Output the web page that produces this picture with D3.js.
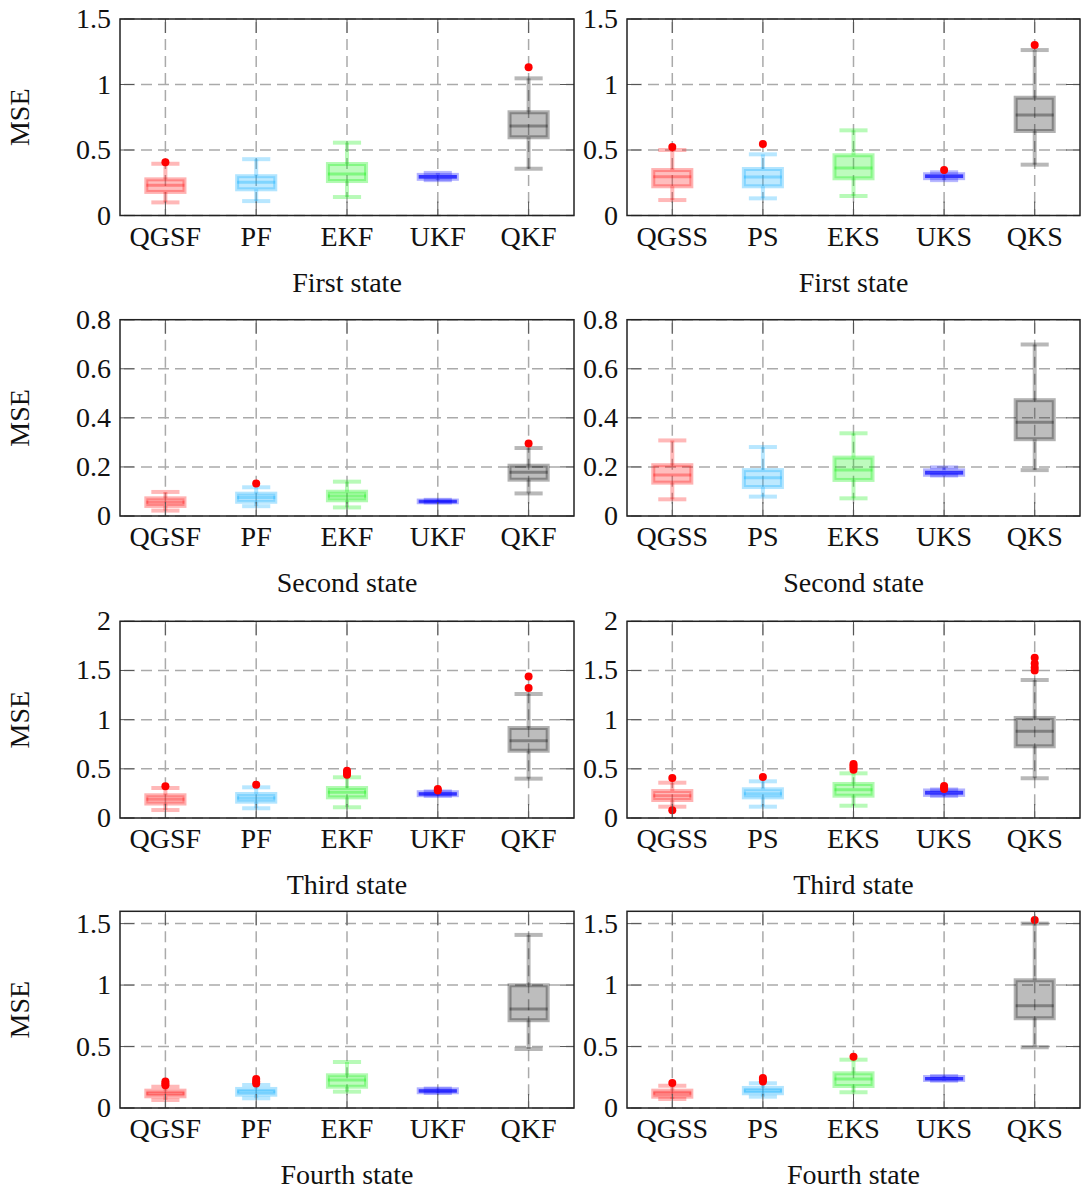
<!DOCTYPE html>
<html>
<head>
<meta charset="utf-8">
<script src="https://cdn.jsdelivr.net/npm/d3@7.9.0/dist/d3.min.js"></script>
<style>
  body { margin: 0; background: #fff; }
  svg text { font-family: "Liberation Serif", "DejaVu Serif", serif; fill: #111; }
</style>
</head>
<body>
<svg id="chart" width="1081" height="1195"></svg>
<script>
// ---- data: [lower whisker, Q1, median, Q3, upper whisker] per method ----
const filterNames = ['QGSF', 'PF', 'EKF', 'UKF', 'QKF'];
const smootherNames = ['QGSS', 'PS', 'EKS', 'UKS', 'QKS'];
const boxColors = ['#ff0000', '#00aaff', '#00ee00', '#0000ff', '#000000'];
const stateTitles = ['First state', 'Second state', 'Third state', 'Fourth state'];

const firstFilter = [[0.10, 0.18, 0.23, 0.276, 0.395], [0.11, 0.20, 0.253, 0.30, 0.43], [0.141, 0.263, 0.317, 0.393, 0.556], [0.27, 0.28, 0.295, 0.31, 0.325], [0.357, 0.597, 0.683, 0.788, 1.047]];
const firstFilterOut = [[0.406], [], [], [], [1.131]];
const firstSmoother = [[0.118, 0.223, 0.296, 0.347, 0.50], [0.131, 0.223, 0.294, 0.355, 0.467], [0.149, 0.284, 0.363, 0.46, 0.65], [0.27, 0.285, 0.30, 0.315, 0.33], [0.388, 0.645, 0.767, 0.899, 1.263]];
const firstSmootherOut = [[0.523], [0.546], [], [0.347], [1.301]];

const secondFilter = [[0.022, 0.041, 0.056, 0.072, 0.098], [0.04, 0.058, 0.075, 0.091, 0.117], [0.035, 0.064, 0.081, 0.099, 0.14], [0.055, 0.056, 0.059, 0.063, 0.066], [0.092, 0.148, 0.178, 0.205, 0.277]];
const secondFilterOut = [[], [0.132], [], [], [0.295]];
const secondSmoother = [[0.068, 0.136, 0.167, 0.207, 0.308], [0.079, 0.118, 0.156, 0.187, 0.281], [0.072, 0.147, 0.187, 0.238, 0.337], [0.165, 0.168, 0.176, 0.186, 0.198], [0.187, 0.313, 0.382, 0.472, 0.699]];
const secondSmootherOut = [[], [], [], [], []];

const thirdFilter = [[0.081, 0.147, 0.19, 0.231, 0.305], [0.099, 0.166, 0.203, 0.244, 0.312], [0.109, 0.21, 0.261, 0.305, 0.414], [0.225, 0.232, 0.245, 0.262, 0.27], [0.40, 0.684, 0.786, 0.915, 1.261]];
const thirdFilterOut = [[0.322], [0.339], [0.44, 0.46, 0.48], [0.28, 0.295], [1.322, 1.44]];
const thirdSmoother = [[0.115, 0.183, 0.227, 0.274, 0.359], [0.115, 0.21, 0.247, 0.292, 0.373], [0.125, 0.227, 0.288, 0.346, 0.454], [0.225, 0.235, 0.256, 0.28, 0.29], [0.404, 0.729, 0.882, 1.017, 1.403]];
const thirdSmootherOut = [[0.407, 0.078], [0.417], [0.49, 0.51, 0.53, 0.55], [0.295, 0.31, 0.325], [1.5, 1.53, 1.57, 1.63]];

const fourthFilter = [[0.065, 0.095, 0.117, 0.141, 0.173], [0.079, 0.108, 0.133, 0.155, 0.187], [0.133, 0.173, 0.228, 0.266, 0.374], [0.122, 0.128, 0.138, 0.152, 0.158], [0.48, 0.714, 0.806, 0.998, 1.408]];
const fourthFilterOut = [[0.185, 0.2, 0.215], [0.2, 0.215, 0.235], [], [], []];
const fourthSmoother = [[0.073, 0.092, 0.12, 0.141, 0.181], [0.092, 0.12, 0.141, 0.163, 0.201], [0.128, 0.179, 0.236, 0.282, 0.393], [0.222, 0.228, 0.238, 0.252, 0.26], [0.494, 0.73, 0.832, 1.039, 1.5]];
const fourthSmootherOut = [[0.203], [0.215, 0.23, 0.245], [0.417], [], [1.53]];

const yMax = [1.5, 0.8, 2, 1.6];
const yTicks = [[0, 0.5, 1, 1.5], [0, 0.2, 0.4, 0.6, 0.8], [0, 0.5, 1, 1.5, 2], [0, 0.5, 1, 1.5]];

// ---- layout ----
const colX = [[120, 574], [627, 1080]];
const rowY = [[19, 215.5], [319.7, 516], [621.3, 818], [911.3, 1108]];
const FS = 28;

const panels = [
  [firstFilter, firstFilterOut, firstSmoother, firstSmootherOut],
  [secondFilter, secondFilterOut, secondSmoother, secondSmootherOut],
  [thirdFilter, thirdFilterOut, thirdSmoother, thirdSmootherOut],
  [fourthFilter, fourthFilterOut, fourthSmoother, fourthSmootherOut],
];

const svg = d3.select('#chart');
const fmt = d3.format('~g');

function drawPanel(r, c, stats, outs, names) {
  const [x0, x1] = colX[c];
  const [y0, y1] = rowY[r];
  const x = d3.scaleLinear().domain([0.5, 5.5]).range([x0, x1]);
  const y = d3.scaleLinear().domain([0, yMax[r]]).range([y1, y0]);
  const g = svg.append('g');
  const cats = d3.range(1, 6);

  // grid
  g.selectAll('.gx').data(cats).join('line')
    .attr('x1', d => x(d)).attr('x2', d => x(d))
    .attr('y1', y0).attr('y2', y1)
    .attr('stroke', '#aaa').attr('stroke-width', 1.5)
    .attr('stroke-dasharray', '11 6').attr('stroke-dashoffset', -3);
  g.selectAll('.gy').data(yTicks[r]).join('line')
    .attr('x1', x0).attr('x2', x1)
    .attr('y1', d => y(d)).attr('y2', d => y(d))
    .attr('stroke', '#aaa').attr('stroke-width', 1.5)
    .attr('stroke-dasharray', '11 6').attr('stroke-dashoffset', -4);

  const boxHalf = x(1.21) - x(1);
  const capHalf = x(1.155) - x(1);

  stats.forEach((s, i) => {
    const cx = x(i + 1);
    const col = boxColors[i];
    const [lo, q1, med, q3, hi] = s;
    const bg = g.append('g');
    const wop = 0.28;
    // whiskers
    bg.append('line').attr('x1', cx).attr('x2', cx).attr('y1', y(hi)).attr('y2', y(q3))
      .attr('stroke', col).attr('stroke-opacity', wop).attr('stroke-width', 4);
    bg.append('line').attr('x1', cx).attr('x2', cx).attr('y1', y(q1)).attr('y2', y(lo))
      .attr('stroke', col).attr('stroke-opacity', wop).attr('stroke-width', 4);
    [lo, hi].forEach(v => {
      bg.append('line').attr('x1', cx - capHalf).attr('x2', cx + capHalf)
        .attr('y1', y(v)).attr('y2', y(v))
        .attr('stroke', col).attr('stroke-opacity', wop).attr('stroke-width', 4);
    });
    // box
    bg.append('rect')
      .attr('x', cx - boxHalf).attr('width', 2 * boxHalf)
      .attr('y', y(q3)).attr('height', Math.max(1, y(q1) - y(q3)))
      .attr('fill', col).attr('fill-opacity', 0.26)
      .attr('stroke', col).attr('stroke-opacity', 0.3).attr('stroke-width', 4);
    // median
    bg.append('line').attr('x1', cx - boxHalf).attr('x2', cx + boxHalf)
      .attr('y1', y(med)).attr('y2', y(med))
      .attr('stroke', col).attr('stroke-opacity', i === 3 ? 0.6 : 0.32).attr('stroke-width', i === 3 ? 3.5 : 3);
    // outliers
    bg.selectAll('circle').data(outs[i]).join('circle')
      .attr('cx', cx).attr('cy', d => y(d)).attr('r', 4)
      .attr('fill', '#ff0000');
  });

  // ticks on all four sides
  const tl = 14;
  g.selectAll('.tb').data(cats).join('line')
    .attr('x1', d => x(d)).attr('x2', d => x(d)).attr('y1', y1).attr('y2', y1 - tl)
    .attr('stroke', '#555').attr('stroke-width', 1);
  g.selectAll('.tt').data(cats).join('line')
    .attr('x1', d => x(d)).attr('x2', d => x(d)).attr('y1', y0).attr('y2', y0 + tl)
    .attr('stroke', '#555').attr('stroke-width', 1);
  g.selectAll('.tlft').data(yTicks[r]).join('line')
    .attr('x1', x0).attr('x2', x0 + tl).attr('y1', d => y(d)).attr('y2', d => y(d))
    .attr('stroke', '#555').attr('stroke-width', 1);
  g.selectAll('.trgt').data(yTicks[r]).join('line')
    .attr('x1', x1).attr('x2', x1 - tl).attr('y1', d => y(d)).attr('y2', d => y(d))
    .attr('stroke', '#555').attr('stroke-width', 1);

  // frame
  g.append('rect').attr('x', x0).attr('y', y0).attr('width', x1 - x0).attr('height', y1 - y0)
    .attr('fill', 'none').attr('stroke', '#222').attr('stroke-width', 1.5);

  // labels
  g.selectAll('.ylab').data(yTicks[r]).join('text')
    .attr('x', x0 - 9).attr('y', d => y(d) + 9)
    .attr('text-anchor', 'end').attr('font-size', FS)
    .text(d => fmt(d));
  g.selectAll('.xlab').data(names).join('text')
    .attr('x', (d, i) => x(i + 1)).attr('y', y1 + 30)
    .attr('text-anchor', 'middle').attr('font-size', FS)
    .text(d => d);
  g.append('text')
    .attr('x', (x0 + x1) / 2).attr('y', y1 + 76)
    .attr('text-anchor', 'middle').attr('font-size', FS)
    .text(stateTitles[r]);
  if (c === 0) {
    g.append('text')
      .attr('transform', `translate(29,${(y0 + y1) / 2}) rotate(-90)`)
      .attr('text-anchor', 'middle').attr('font-size', FS)
      .text('MSE');
  }
}

panels.forEach((p, r) => {
  drawPanel(r, 0, p[0], p[1], filterNames);
  drawPanel(r, 1, p[2], p[3], smootherNames);
});
</script>
</body>
</html>
